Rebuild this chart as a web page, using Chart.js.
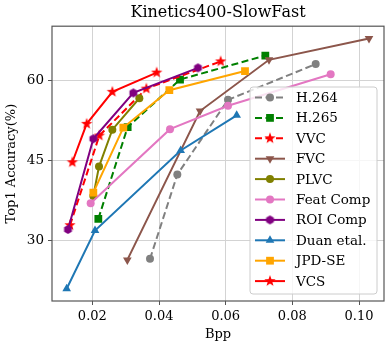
<!DOCTYPE html>
<html>
<head>
<meta charset="utf-8">
<script src="https://cdn.jsdelivr.net/npm/chart.js@4"></script>
<style>
html, body { margin: 0; padding: 0; background: #fff; }
#wrap { width: 391px; height: 346px; }
</style>
</head>
<body>
<div id="wrap"><canvas id="chart"></canvas></div>
<script>
// Tick labels
const xTicks = [0.02, 0.04, 0.06, 0.08, 0.10];
const yTicks = [30, 45, 60];

// Series (Bpp, Top1 accuracy)
const h264Bpp = [0.0373, 0.0455, 0.0607, 0.0870];
const h264Acc = [26.6, 42.4, 56.4, 63.1];
const h265Bpp = [0.0218, 0.0306, 0.0463, 0.0719];
const h265Acc = [34.1, 51.3, 60.2, 64.7];
const vvcBpp = [0.0133, 0.0221, 0.0362, 0.0585];
const vvcAcc = [32.9, 49.7, 58.5, 63.6];
const fvcBpp = [0.0305, 0.0523, 0.0730, 0.1030];
const fvcAcc = [26.4, 54.3, 63.9, 67.9];
const plvcBpp = [0.0203, 0.0220, 0.0260, 0.0341];
const plvcAcc = [38.4, 43.9, 50.8, 56.7];
const featBpp = [0.0195, 0.0433, 0.0607, 0.0915];
const featAcc = [37.0, 50.9, 55.3, 61.2];
const roiBpp = [0.0127, 0.0203, 0.0323, 0.0517];
const roiAcc = [32.1, 49.1, 57.7, 62.4];
const duanBpp = [0.0123, 0.0208, 0.0465, 0.0633];
const duanAcc = [21.0, 31.9, 46.9, 53.5];
const jpdBpp = [0.0203, 0.0293, 0.0431, 0.0658];
const jpdAcc = [39.0, 51.2, 58.2, 61.8];
const vcsBpp = [0.0140, 0.0183, 0.0260, 0.0393];
const vcsAcc = [44.7, 51.9, 57.9, 61.5];

const SERIF = "'DejaVu Serif', serif";

// custom marker shapes (star, hexagon)
function makeMarker(shape, color, r) {
    const c = document.createElement('canvas');
    const s = Math.ceil(r * 2 + 2);
    c.width = s; c.height = s;
    const g = c.getContext('2d');
    const cx = s / 2, cy = s / 2;
    g.fillStyle = color;
    g.beginPath();
    if (shape === 'star') {
        for (let i = 0; i < 10; i++) {
            const rr = i % 2 ? r * 0.4 : r;
            const a = -Math.PI / 2 + i * Math.PI / 5;
            g.lineTo(cx + rr * Math.cos(a), cy + rr * Math.sin(a));
        }
    } else {
        for (let i = 0; i < 6; i++) {
            const a = -Math.PI / 2 + i * Math.PI / 3;
            g.lineTo(cx + r * Math.cos(a), cy + r * Math.sin(a));
        }
    }
    g.closePath();
    g.fill();
    return c;
}

const series = [
    { label: 'H.264', bpp: h264Bpp, acc: h264Acc, color: '#808080', dash: [7, 3.5], style: 'circle', radius: 4 },
    { label: 'H.265', bpp: h265Bpp, acc: h265Acc, color: '#008000', dash: [7, 3.5], style: 'rect', radius: 5.5 },
    { label: 'VVC', bpp: vvcBpp, acc: vvcAcc, color: '#ff0000', dash: [7, 3.5], style: makeMarker('star', '#ff0000', 6), radius: 6 },
    { label: 'FVC', bpp: fvcBpp, acc: fvcAcc, color: '#8c564b', dash: [], style: 'triangle', radius: 5, rotation: 180 },
    { label: 'PLVC', bpp: plvcBpp, acc: plvcAcc, color: '#808000', dash: [], style: 'circle', radius: 4 },
    { label: 'Feat Comp', bpp: featBpp, acc: featAcc, color: '#e377c2', dash: [], style: 'circle', radius: 4 },
    { label: 'ROI Comp', bpp: roiBpp, acc: roiAcc, color: '#800080', dash: [], style: makeMarker('hex', '#800080', 4.5), radius: 4.5 },
    { label: 'Duan etal.', bpp: duanBpp, acc: duanAcc, color: '#1f77b4', dash: [], style: 'triangle', radius: 5 },
    { label: 'JPD-SE', bpp: jpdBpp, acc: jpdAcc, color: '#ffa500', dash: [], style: 'rect', radius: 5.5 },
    { label: 'VCS', bpp: vcsBpp, acc: vcsAcc, color: '#ff0000', dash: [], style: makeMarker('star', '#ff0000', 6), radius: 6 }
];

const datasets = series.map((s, i) => ({
    label: s.label,
    data: s.bpp.map((b, j) => ({ x: b, y: s.acc[j] })),
    borderColor: s.color,
    backgroundColor: s.color,
    borderWidth: 2,
    borderDash: s.dash,
    pointStyle: s.style,
    pointRadius: s.radius,
    pointRotation: s.rotation || 0,
    pointBorderWidth: 0,
    pointBackgroundColor: s.color,
    tension: 0,
    order: series.length - i
}));

// frame around the plot area
const framePlugin = {
    id: 'frame',
    afterDatasetsDraw(chart) {
        const { ctx, chartArea: a } = chart;
        ctx.save();
        ctx.strokeStyle = '#555';
        ctx.lineWidth = 1.2;
        ctx.strokeRect(a.left, a.top, a.right - a.left, a.bottom - a.top);
        ctx.restore();
    }
};

// matplotlib-like legend, lower right inside the axes
const legendPlugin = {
    id: 'boxLegend',
    afterDraw(chart) {
        const { ctx, chartArea: a } = chart;
        const rowH = 20.4, w = 127, pad = 10;
        const h = rowH * series.length + 3;
        const right = a.right - 7, bottom = a.bottom - 7;
        const left = right - w, top = bottom - h;
        ctx.save();
        ctx.beginPath();
        ctx.roundRect(left, top, w, h, 3);
        ctx.fillStyle = 'rgba(255,255,255,0.8)';
        ctx.fill();
        ctx.strokeStyle = '#cccccc';
        ctx.lineWidth = 1;
        ctx.stroke();
        ctx.font = '13.5px ' + SERIF;
        ctx.textBaseline = 'middle';
        series.forEach((s, i) => {
            const y = top + pad + 0.5 + i * rowH;
            ctx.beginPath();
            ctx.setLineDash(s.dash);
            ctx.strokeStyle = s.color;
            ctx.lineWidth = 2;
            ctx.moveTo(left + 5, y);
            ctx.lineTo(left + 35, y);
            ctx.stroke();
            ctx.setLineDash([]);
            ctx.fillStyle = s.color;
            Chart.helpers.drawPoint(ctx, {
                pointStyle: s.style, radius: s.radius, rotation: s.rotation || 0, borderWidth: 0
            }, left + 20, y);
            ctx.fillStyle = '#000';
            ctx.fillText(s.label, left + 46, y + 1);
        });
        ctx.restore();
    }
};

new Chart(document.getElementById('chart'), {
    type: 'line',
    data: { datasets },
    plugins: [framePlugin, legendPlugin],
    options: {
        responsive: true,
        maintainAspectRatio: false,
        animation: false,
        layout: { padding: { right: 7, left: 0, top: 0, bottom: 0 } },
        plugins: {
            legend: { display: false },
            tooltip: { enabled: false },
            title: {
                display: true,
                text: 'Kinetics400-SlowFast',
                fullSize: false,
                color: '#000',
                font: { family: SERIF, size: 16, weight: 'normal' },
                padding: { top: 3, bottom: 4 }
            }
        },
        scales: {
            x: {
                type: 'linear',
                min: 0.0079,
                max: 0.1075,
                afterBuildTicks: sc => { sc.ticks = xTicks.map(v => ({ value: v })); },
                afterFit: sc => { sc.height = 45; },
                ticks: {
                    color: '#000',
                    font: { family: SERIF, size: 13 },
                    padding: 4,
                    maxRotation: 0,
                    callback: v => v.toFixed(2)
                },
                grid: { color: '#d3d3d3', lineWidth: 1, tickColor: '#555', tickLength: 4 },
                border: { display: false },
                title: {
                    display: true, text: 'Bpp', color: '#000',
                    font: { family: SERIF, size: 13 }, padding: { top: 0, bottom: 4 }
                }
            },
            y: {
                type: 'linear',
                min: 18.7,
                max: 70.2,
                afterBuildTicks: sc => { sc.ticks = yTicks.map(v => ({ value: v })); },
                afterFit: sc => { sc.width = 52; },
                ticks: {
                    color: '#000',
                    font: { family: SERIF, size: 13.5 },
                    padding: 4,
                    callback: v => String(v)
                },
                grid: { color: '#d3d3d3', lineWidth: 1, tickColor: '#555', tickLength: 4 },
                border: { display: false },
                title: {
                    display: true, text: 'Top1 Accuracy(%)', color: '#000',
                    font: { family: SERIF, size: 13 }, padding: { top: 4, bottom: 0 }
                }
            }
        }
    }
});
</script>
</body>
</html>
